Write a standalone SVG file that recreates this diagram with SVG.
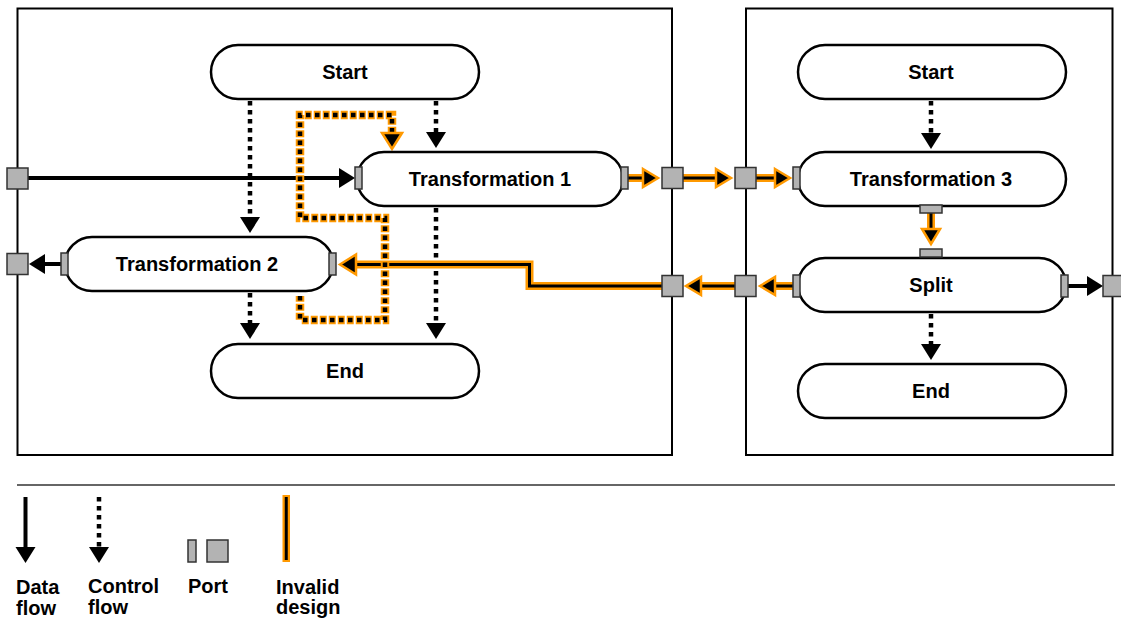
<svg xmlns="http://www.w3.org/2000/svg" width="1121" height="620" viewBox="0 0 1121 620">
<style>
.container{fill:#fff;stroke:#000;stroke-width:2}
.body{fill:#fff;stroke:#000;stroke-width:2.5}
.port{fill:#b3b3b3;stroke:#333;stroke-width:1.5}
.lbl{font-family:"Liberation Sans",Arial,Helvetica,sans-serif;font-weight:bold;font-size:20px;fill:#000;text-anchor:middle}
.leg{font-family:"Liberation Sans",Arial,Helvetica,sans-serif;font-weight:bold;font-size:20px;fill:#000}
.data{fill:none;stroke:#000;stroke-width:4}
.ctrl{fill:none;stroke:#000;stroke-width:4.5;stroke-dasharray:4.5 4.5}
.inv-under{fill:none;stroke:#f90;stroke-width:8}
.inv-dot-under{fill:none;stroke:#f90;stroke-width:8.5;stroke-dasharray:7 2;stroke-dashoffset:1.25}
.inv{fill:none;stroke:#000;stroke-width:3}
</style>
<defs>
<marker id="arrow" markerUnits="userSpaceOnUse" markerWidth="18" markerHeight="22" refX="0" refY="10" orient="auto" overflow="visible">
<path d="M0,0 L16,10 L0,20 z" fill="#000"/>
</marker>
<marker id="arrowInv" markerUnits="userSpaceOnUse" markerWidth="20" markerHeight="20" refX="0" refY="9" orient="auto" overflow="visible">
<path d="M0,0 L15,9 L0,18 z" fill="#000" stroke="#f90" stroke-width="2.5" stroke-linejoin="miter"/>
</marker>
<marker id="arrowInvBig" markerUnits="userSpaceOnUse" markerWidth="22" markerHeight="22" refX="0" refY="10" orient="auto" overflow="visible">
<path d="M0,0 L16,10 L0,20 z" fill="#000" stroke="#f90" stroke-width="2.5" stroke-linejoin="miter"/>
</marker>
</defs>
<rect x="0" y="0" width="1121" height="620" fill="#fff"/>

<g id="containers">
<rect class="container" x="17.5" y="8.5" width="654.5" height="446.5"/>
<rect class="container" x="746" y="8.5" width="366.5" height="446.5"/>
</g>

<g id="connectors">
<!-- data flow -->
<path class="data" d="M27,178 H339" marker-end="url(#arrow)"/>
<path class="data" d="M61,264 H45" marker-end="url(#arrow)"/>
<path class="data" d="M1068,286 H1087" marker-end="url(#arrow)"/>
<!-- control flow -->
<path class="ctrl" d="M250,101 V217" marker-end="url(#arrow)"/>
<path class="ctrl" d="M436,101 V132" marker-end="url(#arrow)"/>
<path class="ctrl" d="M436,208 V323" marker-end="url(#arrow)"/>
<path class="ctrl" d="M250,293 V323" marker-end="url(#arrow)"/>
<path class="ctrl" d="M931,101 V133" marker-end="url(#arrow)"/>
<path class="ctrl" d="M931,314 V344" marker-end="url(#arrow)"/>
<!-- invalid data flows -->
<path class="inv-under" d="M628,178 H643"/>
<path class="inv" d="M628,178 H643" marker-end="url(#arrowInv)"/>
<path class="inv-under" d="M683,178 H716"/>
<path class="inv" d="M683,178 H716" marker-end="url(#arrowInv)"/>
<path class="inv-under" d="M756,178 H775"/>
<path class="inv" d="M756,178 H775" marker-end="url(#arrowInv)"/>
<path class="inv-under" d="M931,213 V229"/>
<path class="inv" d="M931,213 V229" marker-end="url(#arrowInv)"/>
<path class="inv-under" d="M793,286 H775"/>
<path class="inv" d="M793,286 H775" marker-end="url(#arrowInv)"/>
<path class="inv-under" d="M735,286 H701"/>
<path class="inv" d="M735,286 H701" marker-end="url(#arrowInv)"/>
<path class="inv-under" d="M662,286 H529.5 V264.5 H356"/>
<path class="inv" d="M662,286 H529.5 V264.5 H356" marker-end="url(#arrowInvBig)"/>
<!-- invalid control flow -->
<path class="inv-dot-under" d="M300,296 V320 H385 V218 H300 V115 H392 V133"/>
<path class="ctrl" d="M300,296 V320 H385 V218 H300 V115 H392 V133" marker-end="url(#arrowInvBig)"/>
</g>

<g id="boundary-ports">
<rect class="port" x="7" y="168" width="21" height="21"/>
<rect class="port" x="7" y="253.5" width="21" height="21"/>
<rect class="port" x="662" y="167.5" width="21" height="21"/>
<rect class="port" x="662" y="275.5" width="21" height="21"/>
<rect class="port" x="735" y="167.5" width="21" height="21"/>
<rect class="port" x="735" y="275.5" width="21" height="21"/>
<rect class="port" x="1103" y="275.5" width="21" height="21"/>
</g>

<g id="node-start-left">
<rect class="body" x="211" y="45" width="268" height="54" rx="27"/>
<text class="lbl" x="345" y="79">Start</text>
</g>
<g id="node-transformation-1">
<rect class="body" x="357" y="152" width="266" height="54" rx="27"/>
<rect class="port" x="355" y="167" width="7" height="22"/>
<rect class="port" x="621" y="167" width="7" height="22"/>
<text class="lbl" x="490" y="186">Transformation 1</text>
</g>
<g id="node-transformation-2">
<rect class="body" x="65" y="237" width="268" height="54" rx="27"/>
<rect class="port" x="61" y="253" width="7" height="22"/>
<rect class="port" x="329" y="253" width="7" height="22"/>
<text class="lbl" x="197" y="271">Transformation 2</text>
</g>
<g id="node-end-left">
<rect class="body" x="211" y="344" width="268" height="54" rx="27"/>
<text class="lbl" x="345" y="378">End</text>
</g>
<g id="node-start-right">
<rect class="body" x="798" y="45" width="268" height="54" rx="27"/>
<text class="lbl" x="931" y="79">Start</text>
</g>
<g id="node-transformation-3">
<rect class="body" x="798" y="152" width="268" height="54" rx="27"/>
<rect class="port" x="793" y="167" width="7" height="22"/>
<rect class="port" x="920" y="205" width="22" height="8"/>
<text class="lbl" x="931" y="186">Transformation 3</text>
</g>
<g id="node-split">
<rect class="body" x="798" y="258" width="268" height="54" rx="27"/>
<rect class="port" x="793" y="275" width="7" height="22"/>
<rect class="port" x="1061" y="275" width="7" height="22"/>
<rect class="port" x="920" y="249" width="22" height="8"/>
<text class="lbl" x="931" y="292">Split</text>
</g>
<g id="node-end-right">
<rect class="body" x="798" y="364" width="268" height="54" rx="27"/>
<text class="lbl" x="931" y="398">End</text>
</g>

<g id="legend">
<path d="M17,485 H1115" stroke="#333" stroke-width="1.5" fill="none"/>
<path class="data" d="M25.5,497 V547" marker-end="url(#arrow)"/>
<path class="ctrl" d="M99,497 V547" marker-end="url(#arrow)"/>
<rect class="port" x="188" y="540" width="8" height="22"/>
<rect class="port" x="207" y="540" width="21" height="22"/>
<rect x="282.5" y="495" width="7.5" height="67" fill="#f90"/>
<path d="M286.25,497 V560" stroke="#000" stroke-width="3" fill="none"/>
<text class="leg" x="16" y="594">Data</text>
<text class="leg" x="16" y="615">flow</text>
<text class="leg" x="88" y="593">Control</text>
<text class="leg" x="88" y="614">flow</text>
<text class="leg" x="188" y="593">Port</text>
<text class="leg" x="276" y="594">Invalid</text>
<text class="leg" x="276" y="614">design</text>
</g>
</svg>
